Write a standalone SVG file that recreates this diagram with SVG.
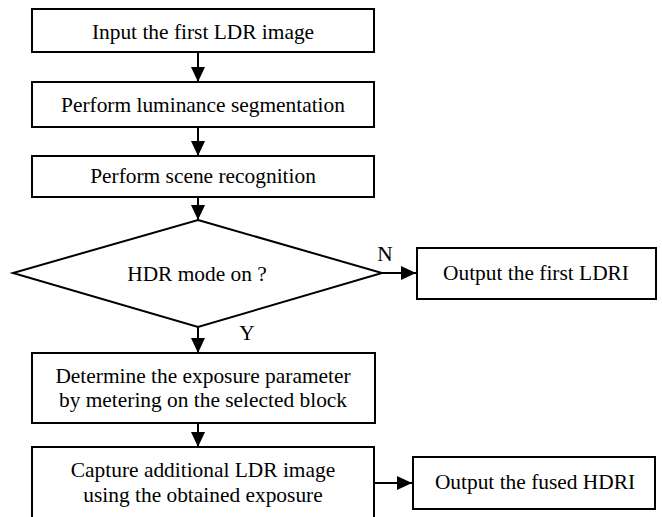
<svg xmlns="http://www.w3.org/2000/svg" width="662" height="517" viewBox="0 0 662 517">
  <style>
    .box { fill: #ffffff; stroke: #000000; stroke-width: 2; }
    .conn { fill: none; stroke: #000000; stroke-width: 2; }
    text { font-family: "Liberation Serif", "DejaVu Serif", serif; font-size: 21.4px; fill: #000000; }
    .c { text-anchor: middle; }
  </style>
  <defs>
    <marker id="arrow" markerUnits="userSpaceOnUse" markerWidth="16" markerHeight="16" refX="15" refY="7" orient="auto">
      <path d="M0,0 L15,7 L0,14 Z" fill="#000000"/>
    </marker>
  </defs>
  <rect width="662" height="517" fill="#ffffff"/>

  <g id="connectors">
    <line class="conn" x1="198" y1="52" x2="198" y2="82" marker-end="url(#arrow)"/>
    <line class="conn" x1="198" y1="127" x2="198" y2="156" marker-end="url(#arrow)"/>
    <line class="conn" x1="198" y1="197" x2="198" y2="220" marker-end="url(#arrow)"/>
    <line class="conn" x1="382" y1="273" x2="416" y2="273" marker-end="url(#arrow)"/>
    <line class="conn" x1="198" y1="327" x2="198" y2="353" marker-end="url(#arrow)"/>
    <line class="conn" x1="198" y1="423" x2="198" y2="447" marker-end="url(#arrow)"/>
    <line class="conn" x1="374" y1="483" x2="412" y2="483" marker-end="url(#arrow)"/>
    <text x="385" y="261" class="c">N</text>
    <text x="247" y="340" class="c">Y</text>
  </g>

  <g id="input">
    <rect class="box" x="32" y="9" width="342" height="43"/>
    <text x="203" y="39" class="c">Input the first LDR image</text>
  </g>
  <g id="segmentation">
    <rect class="box" x="32" y="82" width="342" height="45"/>
    <text x="203" y="112" class="c">Perform luminance segmentation</text>
  </g>
  <g id="recognition">
    <rect class="box" x="32" y="156" width="342" height="41"/>
    <text x="203" y="183" class="c">Perform scene recognition</text>
  </g>
  <g id="decision">
    <polygon class="box" points="198,220 382,273 198,327 13,273"/>
    <text x="197" y="281" class="c">HDR mode on ?</text>
  </g>
  <g id="output-ldri">
    <rect class="box" x="417" y="248" width="239" height="51"/>
    <text x="536" y="280" class="c">Output the first LDRI</text>
  </g>
  <g id="exposure">
    <rect class="box" x="32" y="353" width="343" height="70"/>
    <text x="203" y="383" class="c">Determine the exposure parameter</text>
    <text x="203" y="407" class="c">by metering on the selected block</text>
  </g>
  <g id="capture">
    <rect class="box" x="32" y="447" width="342" height="80"/>
    <text x="203" y="477" class="c">Capture additional LDR image</text>
    <text x="203" y="502" class="c">using the obtained exposure</text>
  </g>
  <g id="output-hdri">
    <rect class="box" x="413" y="457" width="242" height="52"/>
    <text x="535" y="489" class="c">Output the fused HDRI</text>
  </g>
</svg>
